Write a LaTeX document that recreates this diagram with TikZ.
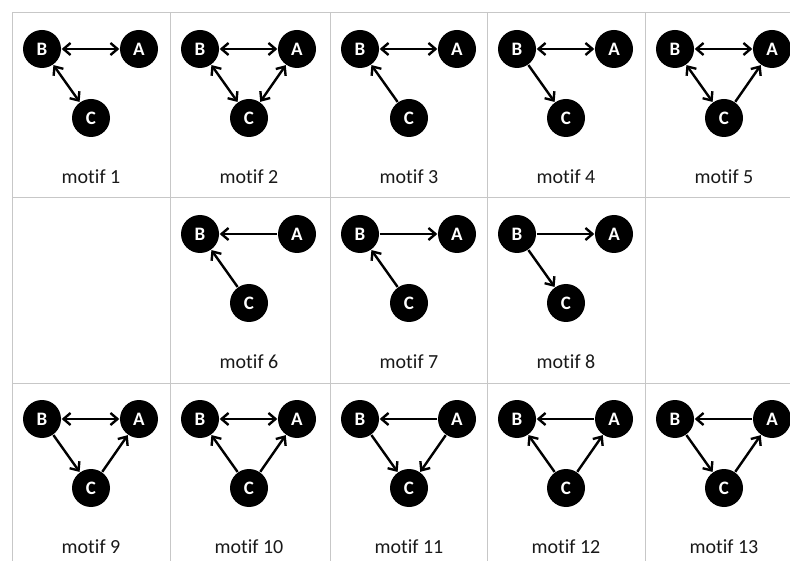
\documentclass[tikz,border=0pt]{standalone}
\usepackage{fontspec}
\setmainfont{Carlito}[Ligatures=NoCommon]
\usetikzlibrary{arrows.meta}
\tikzset{
    vertex/.style={circle, fill=black, minimum size=38pt, inner sep=0pt, text=white, font=\fontsize{19}{19}\selectfont\bfseries},
    edge/.style={line width=2.4pt, shorten >=0.5pt, shorten <=0.5pt},
    gridline/.style={draw=black!22, line width=1pt},
    caption/.style={font=\fontsize{20}{22}\selectfont, text=black!90}
}
\begin{document}
\begin{tikzpicture}[x=1pt, y=-1pt, >={Straight Barb[length=7pt,width=12pt]}]
    \useasboundingbox (0,0) rectangle (790,561);
    % table lines
    \foreach \x in {12,170,330,487,645} \draw[gridline] (\x,13) -- (\x,561);
    \foreach \y in {13,198,383} \draw[gridline] (12,\y) -- (790,\y);
    % nodes of each motif
    \foreach \n/\x/\y in {1/12/13, 2/170/13, 3/330/13, 4/487/13, 5/645/13,
                          6/170/198, 7/330/198, 8/487/198,
                          9/12/383, 10/170/383, 11/330/383, 12/487/383, 13/645/383} {
        \node [vertex] (b\n) at (\x+30,\y+36) {B};
        \node [vertex] (a\n) at (\x+127,\y+36) {A};
        \node [vertex] (c\n) at (\x+79,\y+105) {C};
        \node [caption] (m\n) at (\x+79,\y+164) {motif \n};
    }
    % motif 1
    \draw [edge,<->] (b1) -- (a1);
    \draw [edge,<->] (b1) -- (c1);
    % motif 2
    \draw [edge,<->] (b2) -- (a2);
    \draw [edge,<->] (b2) -- (c2);
    \draw [edge,<->] (a2) -- (c2);
    % motif 3
    \draw [edge,<->] (b3) -- (a3);
    \draw [edge,->] (c3) -- (b3);
    % motif 4
    \draw [edge,<->] (b4) -- (a4);
    \draw [edge,->] (b4) -- (c4);
    % motif 5
    \draw [edge,<->] (b5) -- (a5);
    \draw [edge,<->] (b5) -- (c5);
    \draw [edge,->] (c5) -- (a5);
    % motif 6
    \draw [edge,->] (a6) -- (b6);
    \draw [edge,->] (c6) -- (b6);
    % motif 7
    \draw [edge,->] (b7) -- (a7);
    \draw [edge,->] (c7) -- (b7);
    % motif 8
    \draw [edge,->] (b8) -- (a8);
    \draw [edge,->] (b8) -- (c8);
    % motif 9
    \draw [edge,<->] (b9) -- (a9);
    \draw [edge,->] (b9) -- (c9);
    \draw [edge,->] (c9) -- (a9);
    % motif 10
    \draw [edge,<->] (b10) -- (a10);
    \draw [edge,->] (c10) -- (b10);
    \draw [edge,->] (c10) -- (a10);
    % motif 11
    \draw [edge,->] (a11) -- (b11);
    \draw [edge,->] (b11) -- (c11);
    \draw [edge,->] (a11) -- (c11);
    % motif 12
    \draw [edge,->] (a12) -- (b12);
    \draw [edge,->] (c12) -- (b12);
    \draw [edge,->] (c12) -- (a12);
    % motif 13
    \draw [edge,->] (a13) -- (b13);
    \draw [edge,->] (b13) -- (c13);
    \draw [edge,->] (c13) -- (a13);
\end{tikzpicture}
\end{document}
